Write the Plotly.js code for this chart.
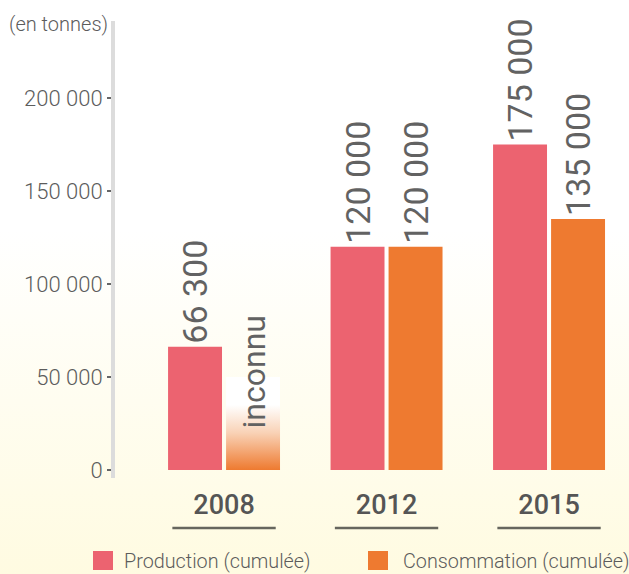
<!DOCTYPE html>
<html>
<head>
<meta charset="utf-8">
<script src="https://cdn.plot.ly/plotly-3.0.1.min.js"></script>
<style>
  html, body { margin: 0; padding: 0; }
  body {
    width: 629px; height: 574px; overflow: hidden;
    background: linear-gradient(to bottom, #ffffff 0%, #ffffff 40%, #fffbe1 100%);
  }
  #chart { width: 629px; height: 574px; }
</style>
</head>
<body>
<div id="chart"></div>
<script>
// ---- data ----
const categories = ['2008', '2012', '2015'];
const productionValues = [66300, 120000, 175000];
const consumptionValues = [null, 120000, 135000];
const unknownPlaceholder = [50000, null, null];   // faded bar for the unknown 2008 consumption
const unknownLabel = 'inconnu';
const seriesNames = ['Production (cumulée)', 'Consommation (cumulée)'];
const yTickValues = [0, 50000, 100000, 150000, 200000];
const unitLabel = '(en tonnes)';

// ---- style ----
const prodColor = '#ec6370';
const consColor = '#ee7a30';
const textColor = '#5c5c5c';
const narrow = '"Liberation Sans Narrow", "Arial Narrow", Roboto, sans-serif';
const light = 'Roboto, "Open Sans", sans-serif';

const W = 629, H = 574;
const M = { l: 115, r: 0, t: 21, b: 104 };
const plotW = W - M.l - M.r, plotH = H - M.t - M.b;
const px2x = px => (px - M.l) / plotW;
const px2y = py => (H - M.b - py) / plotH;

const valueFont = (s) => ({ family: narrow, size: s || 34, color: '#626262' });

const traces = [
  {
    type: 'bar', name: seriesNames[0], x: categories, y: productionValues,
    offsetgroup: 'p', marker: { color: prodColor, line: { width: 0 } },
    texttemplate: '%{y:,}', textposition: 'outside', textangle: -90,
    textfont: valueFont(), constraintext: 'none', cliponaxis: false, hoverinfo: 'none'
  },
  {
    type: 'bar', name: seriesNames[1], x: categories, y: consumptionValues,
    offsetgroup: 'c', marker: { color: consColor, line: { width: 0 } },
    texttemplate: '%{y:,}', textposition: 'outside', textangle: -90,
    textfont: valueFont(), constraintext: 'none', cliponaxis: false, hoverinfo: 'none'
  },
  {
    type: 'bar', name: 'unknown', x: categories, y: unknownPlaceholder,
    offsetgroup: 'c', marker: { color: '#f0a070', line: { width: 0 } },
    showlegend: false, hoverinfo: 'none'
  }
];

const shapes = [];
const annotations = [];

// underline below each category label
categories.forEach((c, i) => {
  shapes.push({
    type: 'line', xref: 'x', yref: 'paper', x0: i - 0.318, x1: i + 0.318,
    y0: px2y(528), y1: px2y(528), line: { color: '#66665e', width: 2.5 }
  });
});

// small extension of the y axis line below zero
shapes.push({
  type: 'line', xref: 'paper', yref: 'paper', x0: px2x(113), x1: px2x(113),
  y0: px2y(468), y1: px2y(478), line: { color: '#dcdcdc', width: 4 }
});

// custom legend
const legendItems = [
  { name: seriesNames[0], color: prodColor, sx: 93, tx: 122 },
  { name: seriesNames[1], color: consColor, sx: 368, tx: 401 }
];
legendItems.forEach(it => {
  shapes.push({
    type: 'rect', xref: 'paper', yref: 'paper',
    x0: px2x(it.sx), x1: px2x(it.sx + 20), y0: px2y(570), y1: px2y(551),
    fillcolor: it.color, line: { width: 0 }
  });
  annotations.push({
    xref: 'paper', yref: 'paper', x: px2x(it.tx), y: px2y(561),
    xanchor: 'left', yanchor: 'middle', showarrow: false, text: it.name,
    font: { family: light, size: 19.8, weight: 300, color: textColor }
  });
});

// unit label
annotations.push({
  xref: 'paper', yref: 'paper', x: px2x(110), y: px2y(24),
  xanchor: 'right', yanchor: 'middle', showarrow: false, text: unitLabel,
  font: { family: light, size: 20, weight: 300, color: textColor }
});

// "inconnu" label on the faded bar (x given as category index)
annotations.push({
  xref: 'x', yref: 'y', x: categories.indexOf('2008'), y: 21000, xshift: 30,
  xanchor: 'center', yanchor: 'bottom', showarrow: false, textangle: -90,
  text: unknownLabel, font: valueFont(32)
});

const layout = {
  width: W, height: H, autosize: false, margin: M,
  paper_bgcolor: 'rgba(0,0,0,0)', plot_bgcolor: 'rgba(0,0,0,0)',
  barmode: 'group', bargap: 0.286, bargroupgap: 0.07,
  separators: ', ',
  showlegend: false,
  xaxis: {
    type: 'category', range: [-0.671, 2.492], showgrid: false, zeroline: false,
    showline: false, ticks: '', ticklabelstandoff: 16,
    tickfont: { family: light, size: 27, weight: 500, color: '#555' }
  },
  yaxis: {
    range: [0, 241400], tickvals: yTickValues, tickformat: ',',
    showgrid: false, zeroline: false,
    showline: true, linecolor: '#dcdcdc', linewidth: 4,
    ticks: 'outside', ticklen: 4, tickwidth: 1.5, tickcolor: '#666',
    tickfont: { family: light, size: 22, weight: 300, color: textColor }
  },
  shapes: shapes,
  annotations: annotations
};

Plotly.newPlot('chart', traces, layout, { staticPlot: true, displayModeBar: false }).then(gd => {
  const svg = gd.querySelector('.main-svg');
  const ns = 'http://www.w3.org/2000/svg';
  let defs = svg.querySelector('defs');
  if (!defs) { defs = document.createElementNS(ns, 'defs'); svg.insertBefore(defs, svg.firstChild); }
  const grad = document.createElementNS(ns, 'linearGradient');
  grad.setAttribute('id', 'inconnuGrad');
  grad.setAttribute('x1', '0'); grad.setAttribute('y1', '0');
  grad.setAttribute('x2', '0'); grad.setAttribute('y2', '1');
  [['0', '#ffffff'], ['0.3', '#ffffff'], ['0.6', '#f9d2b6'], ['1', consColor]].forEach(([o, c]) => {
    const s = document.createElementNS(ns, 'stop');
    s.setAttribute('offset', o); s.setAttribute('stop-color', c);
    grad.appendChild(s);
  });
  defs.appendChild(grad);
  const barTraces = gd.querySelectorAll('.barlayer .trace');
  if (barTraces[2]) {
    barTraces[2].querySelectorAll('path').forEach(p => { p.style.fill = 'url(#inconnuGrad)'; });
  }
});
</script>
</body>
</html>
